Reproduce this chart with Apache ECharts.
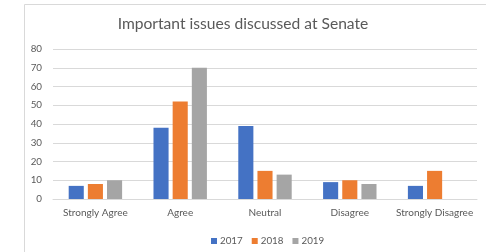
<!DOCTYPE html>
<html>
<head>
<meta charset="utf-8">
<script src="https://cdn.jsdelivr.net/npm/echarts@6/dist/echarts.min.js"></script>
<style>
  html, body { margin: 0; padding: 0; background: #fff; }
  #chart { width: 486px; height: 252px; }
</style>
</head>
<body>
<div id="chart"></div>
<script>
// survey answers per year
const categories = ['Strongly Agree', 'Agree', 'Neutral', 'Disagree', 'Strongly Disagree']
const years = ['2017', '2018', '2019']
const values2017 = [7, 38, 39, 9, 7]
const values2018 = [8, 52, 15, 10, 15]
const values2019 = [10, 70, 13, 8, 0]
const yTicks = [0, 10, 20, 30, 40, 50, 60, 70, 80]

const colors = ['#4472C4', '#ED7D31', '#A5A5A5']
const font = 'Lato, "Open Sans", sans-serif'

const chart = echarts.init(document.getElementById('chart'))

const seriesData = [values2017, values2018, values2019]

chart.setOption({
  animation: false,
  color: colors,
  title: {
    text: 'Important issues discussed at Senate',
    left: 'center',
    top: 11,
    textStyle: { fontFamily: font, fontSize: 15.6, fontWeight: 'normal', color: '#595959' }
  },
  legend: {
    top: 231,
    left: 206,
    itemWidth: 6,
    itemHeight: 6,
    itemGap: 9,
    icon: 'rect',
    textStyle: { fontFamily: font, fontSize: 9.8, color: '#595959', padding: [0, 0, 0, -2] },
    data: years
  },
  grid: { left: 53, right: 9, top: 49, bottom: 53 },
  xAxis: {
    type: 'category',
    data: categories,
    axisLine: { lineStyle: { color: '#D9D9D9' } },
    axisTick: { show: false },
    axisLabel: { interval: 0, fontFamily: font, fontSize: 10, color: '#595959', margin: 9 }
  },
  yAxis: {
    type: 'value',
    min: yTicks[0],
    max: yTicks[yTicks.length - 1],
    interval: 10,
    axisLine: { show: false },
    axisTick: { show: false },
    axisLabel: { fontFamily: font, fontSize: 9.8, color: '#595959', margin: 11 },
    splitLine: { lineStyle: { color: '#D9D9D9' } }
  },
  series: years.map((y, i) => ({
    name: y,
    type: 'bar',
    data: seriesData[i],
    barGap: '27%',
    barCategoryGap: '37%'
  })),
  graphic: [{
    type: 'rect',
    shape: { x: 24.5, y: 4.5, width: 600, height: 400 },
    style: { fill: 'none', stroke: '#D9D9D9', lineWidth: 1 },
    silent: true
  }]
})
</script>
</body>
</html>
